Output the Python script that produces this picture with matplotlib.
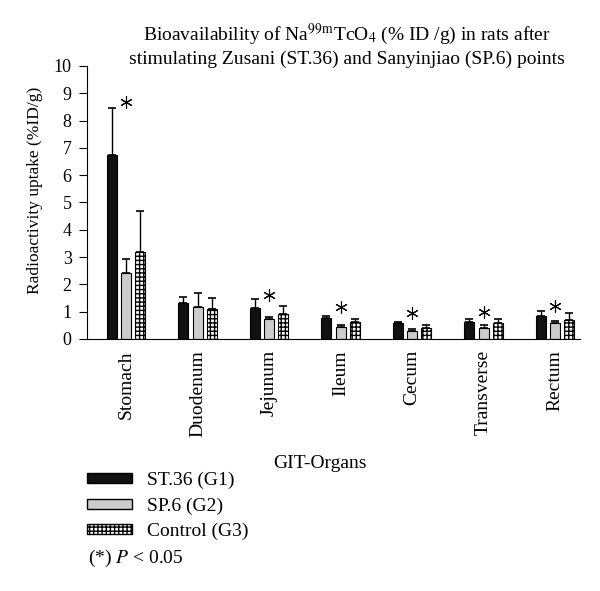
import numpy as np
import matplotlib.pyplot as plt
from matplotlib.patches import Patch

organs = ["Stomach", "Duodenum", "Jejunum", "Ileum", "Cecum", "Transverse", "Rectum"]
g1 = [6.74, 1.33, 1.14, 0.76, 0.57, 0.63, 0.85]
g1_err = [1.73, 0.22, 0.31, 0.08, 0.06, 0.11, 0.18]
g2 = [2.43, 1.18, 0.74, 0.45, 0.29, 0.41, 0.59]
g2_err = [0.51, 0.52, 0.06, 0.07, 0.06, 0.09, 0.07]
g3 = [3.19, 1.11, 0.90, 0.62, 0.39, 0.57, 0.68]
g3_err = [1.51, 0.38, 0.32, 0.10, 0.12, 0.16, 0.26]
# significance marks (*) above SP.6 bars
star_y = [8.68, None, 1.62, 1.18, 0.94, 1.0, 1.21]

plt.rcParams['font.family'] = ['Liberation Serif', 'DejaVu Serif']
plt.rcParams['mathtext.fontset'] = 'stix'

fig = plt.figure(figsize=(6, 5.91), dpi=100)
ax = fig.add_axes([0.145, 0.4264, 0.822, 0.462])

x = np.arange(len(organs))
w = 0.14
off = 0.2
ax.bar(x - off, g1, w, color="#111111", edgecolor="black", linewidth=0.8)
ax.bar(x, g2, w, color="#cccccc", edgecolor="black", linewidth=0.8)
ax.bar(x + off, g3, w, color="white", edgecolor="black", linewidth=0.8, hatch="++++")
for xs, vals, errs in [(x - off, g1, g1_err), (x, g2, g2_err), (x + off, g3, g3_err)]:
    ax.errorbar(xs, vals, yerr=[np.zeros(len(vals)), errs], fmt="none",
                ecolor="black", elinewidth=1, capsize=3, capthick=1.2)

sx = [x[i] for i, s in enumerate(star_y) if s is not None]
sy = [s for s in star_y if s is not None]
ax.plot(sx, sy, linestyle="none", marker=(6, 2, 0), markersize=9,
        markeredgewidth=0.8, color="black")

ax.set_xlim(-0.545, 6.35)
ax.set_ylim(0, 10)
ax.set_yticks(range(0, 11))
ax.set_xticks(x)
ax.set_xticklabels(organs, rotation=90, fontsize=14)
ax.tick_params(axis="x", length=0, pad=8)
ax.tick_params(axis="y", labelsize=13, length=6, pad=5)
ax.spines["top"].set_visible(False)
ax.spines["right"].set_visible(False)
ax.set_ylabel("Radioactivity uptake (%ID/g)", fontsize=12.5)
ax.yaxis.set_label_coords(-0.09, 0.545)

fig.text(320 / 600, 1 - 463 / 591, "GIT-Organs", ha="center", va="center", fontsize=14)

fig.text(347 / 600, 1 - 45 / 591, "Bioavailability of Na$^{99\\mathrm{m}}$TcO$_4$ (% ID /g) in rats after\n"
         "stimulating Zusani (ST.36) and Sanyinjiao (SP.6) points",
         ha="center", va="center", fontsize=14, linespacing=1.25)

handles = [Patch(facecolor="#111111", edgecolor="black", label="ST.36 (G1)"),
           Patch(facecolor="#cccccc", edgecolor="black", label="SP.6 (G2)"),
           Patch(facecolor="white", edgecolor="black", hatch="++++", label="Control (G3)")]
fig.legend(handles=handles, loc="upper left", bbox_to_anchor=(0.145, 1 - 472 / 591),
           frameon=False, fontsize=14, handlelength=2.3, handleheight=0.4,
           labelspacing=0.42, handletextpad=0.8, borderaxespad=0, borderpad=0)
fig.text(88 / 600, 1 - 558 / 591, "(*) $P$ < 0.05", fontsize=14, va="center")

fig.savefig("out.png", dpi=100)
